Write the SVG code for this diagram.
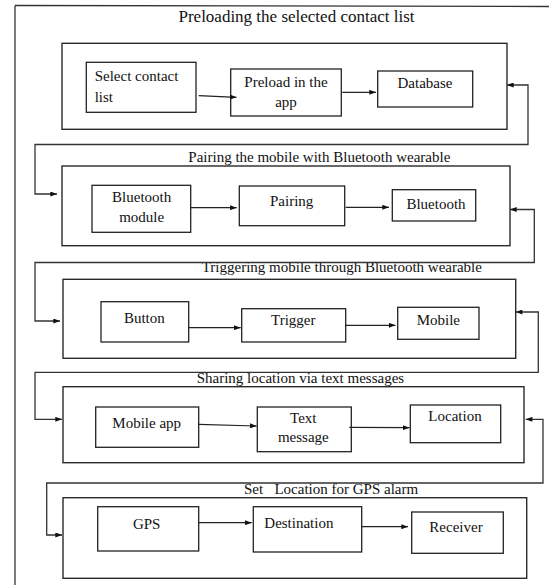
<svg xmlns="http://www.w3.org/2000/svg" width="549" height="586" viewBox="0 0 549 586" font-family="'Liberation Serif', 'Times New Roman', serif">
<style>
.frame{fill:none;stroke:#333;stroke-width:1.3}
.sec{fill:none;stroke:#2a2a2a;stroke-width:1.4}
.node{fill:#fff;stroke:#222;stroke-width:1.3}
.t{font-family:'Liberation Serif','Times New Roman',serif;font-size:15px;fill:#111}
.ttl{font-family:'Liberation Serif','Times New Roman',serif;font-size:15px;fill:#111}
.c{text-anchor:middle}
.con{fill:none;stroke:#333;stroke-width:1.3;marker-start:url(#ah);marker-end:url(#ah)}
.arr{fill:none;stroke:#222;stroke-width:1.2;marker-end:url(#ah)}
</style>
<defs>
<marker id="ah" viewBox="0 0 8 6" refX="8" refY="3" markerWidth="7" markerHeight="5" markerUnits="userSpaceOnUse" orient="auto-start-reverse">
<path d="M0,0 L8,3 L0,6 z" fill="#111"/>
</marker>
<linearGradient id="fade" x1="0" x2="1" y1="0" y2="0">
<stop offset="0" stop-color="#555"/>
<stop offset="1" stop-color="#ddd"/>
</linearGradient>
</defs>
<rect width="549" height="586" fill="#fff"/>
<g id="frame">
<line x1="15" y1="5.5" x2="549" y2="6.5" class="frame"/>
<line x1="15" y1="5.5" x2="15" y2="585" class="frame"/>
<line x1="15" y1="584.5" x2="185" y2="584.5" stroke="url(#fade)" stroke-width="1.5"/>
</g>
<g id="section1">
<text class="ttl c" x="296.5" y="22" style="font-size:17px">Preloading the selected contact list</text>
<rect class="sec" x="62" y="43.3" width="445" height="86"/>
</g>
<g id="section2">
<text class="ttl" x="188.3" y="161.5">Pairing the mobile with Bluetooth wearable</text>
<rect class="sec" x="62" y="166" width="448" height="79.7"/>
</g>
<g id="section3">
<text class="ttl" x="201.7" y="272.3">Triggering mobile through Bluetooth wearable</text>
<rect class="sec" x="63" y="279.3" width="452.7" height="79"/>
</g>
<g id="section4">
<text class="ttl" x="196.7" y="382.7">Sharing location via text messages</text>
<rect class="sec" x="63" y="386.7" width="461" height="76"/>
</g>
<g id="section5">
<text class="ttl" x="244" y="494.3" xml:space="preserve">Set   Location for GPS alarm</text>
<rect class="sec" x="63" y="497.7" width="463.7" height="80.6"/>
</g>
<g id="n-select">
<rect class="node" x="86.3" y="62.3" width="109.7" height="50"/>
<text class="t" x="94.7" y="80.7">Select contact</text>
<text class="t" x="94.7" y="101.7">list</text>
</g>
<g id="n-preload">
<rect class="node" x="230.7" y="69" width="110.6" height="47"/>
<text class="t c" x="286" y="86.7">Preload in the</text>
<text class="t c" x="286" y="106.7">app</text>
</g>
<g id="n-database">
<rect class="node" x="377.7" y="71" width="95" height="36"/>
<text class="t c" x="425" y="88.3">Database</text>
</g>
<g id="n-btmodule">
<rect class="node" x="92" y="185.3" width="98.7" height="47"/>
<text class="t c" x="141.7" y="201.7">Bluetooth</text>
<text class="t c" x="141.7" y="221.7">module</text>
</g>
<g id="n-pairing">
<rect class="node" x="239.3" y="186" width="105.4" height="39.7"/>
<text class="t c" x="291.7" y="205.7">Pairing</text>
</g>
<g id="n-bluetooth">
<rect class="node" x="392.3" y="189.7" width="83.4" height="31.3"/>
<text class="t c" x="436" y="208.5">Bluetooth</text>
</g>
<g id="n-button">
<rect class="node" x="101" y="301.7" width="87.7" height="40.3"/>
<text class="t c" x="144.3" y="323.3">Button</text>
</g>
<g id="n-trigger">
<rect class="node" x="241.7" y="308.7" width="104" height="33.3"/>
<text class="t c" x="293.3" y="325">Trigger</text>
</g>
<g id="n-mobile">
<rect class="node" x="397.7" y="307.3" width="81.3" height="32"/>
<text class="t c" x="438.3" y="325">Mobile</text>
</g>
<g id="n-mobileapp">
<rect class="node" x="95.7" y="407" width="103" height="40.3"/>
<text class="t c" x="146.7" y="427.7">Mobile app</text>
</g>
<g id="n-textmsg">
<rect class="node" x="257.3" y="407" width="94" height="44.7"/>
<text class="t c" x="303.3" y="423.3">Text</text>
<text class="t c" x="303.3" y="442">message</text>
</g>
<g id="n-location">
<rect class="node" x="410.3" y="405" width="90.4" height="37.7"/>
<text class="t c" x="455" y="421">Location</text>
</g>
<g id="n-gps">
<rect class="node" x="97.7" y="506.7" width="101" height="44.3"/>
<text class="t c" x="146.7" y="529.3">GPS</text>
</g>
<g id="n-destination">
<rect class="node" x="253.3" y="506.7" width="108.4" height="45.3"/>
<text class="t" x="264.3" y="527.7">Destination</text>
</g>
<g id="n-receiver">
<rect class="node" x="411.7" y="512" width="91.6" height="41.3"/>
<text class="t c" x="456" y="531.7">Receiver</text>
</g>
<g id="connectors">
<path class="con" d="M507,85 H528 V144.5 H35 V194 H57"/>
<path class="con" d="M510,209.5 H534.3 V262.5 H35 V321 H60"/>
<path class="con" d="M515.7,312 H538.3 V372.3 H35 V419.3 H62"/>
<path class="con" d="M525.7,419.3 H543 V483 H46.7 V535 H62"/>
<path class="arr" d="M198.7,95.7 L236.5,97.3"/>
<path class="arr" d="M342.3,92.3 L376,92.3"/>
<path class="arr" d="M190.7,207.7 L236.7,207.7"/>
<path class="arr" d="M345.7,207.3 L389,207.3"/>
<path class="arr" d="M188.7,327.7 L240.7,327.7"/>
<path class="arr" d="M345.7,325.3 L395.5,325.3"/>
<path class="arr" d="M198.7,424.3 L256.7,426"/>
<path class="arr" d="M349.3,427.3 L409.5,427.7"/>
<path class="arr" d="M198.7,522.7 L251.7,522.7"/>
<path class="arr" d="M361.7,526.7 L408,526.7"/>
</g>
</svg>
